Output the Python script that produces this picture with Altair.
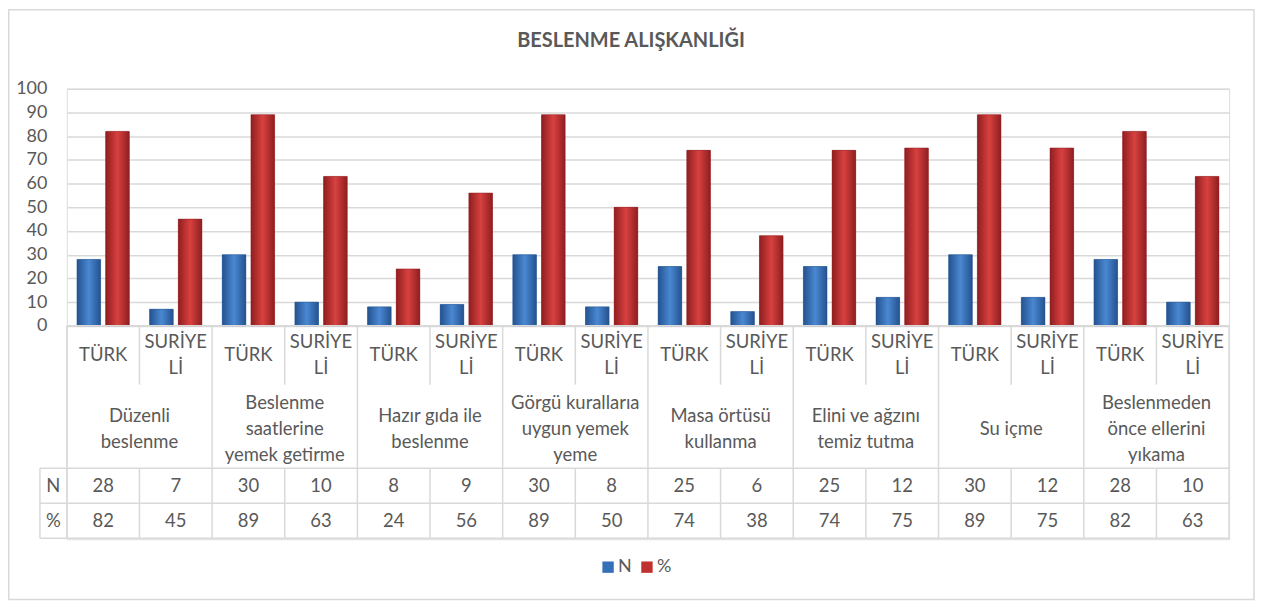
import altair as alt
import pandas as pd

# ---- data ----
groups = [
    "Düzenli\nbeslenme",
    "Beslenme\nsaatlerine\nyemek getirme",
    "Hazır gıda ile\nbeslenme",
    "Görgü kurallarıa\nuygun yemek\nyeme",
    "Masa örtüsü\nkullanma",
    "Elini ve ağzını\ntemiz tutma",
    "Su içme",
    "Beslenmeden\nönce ellerini\nyıkama",
]
subgroups = ["TÜRK", "SURİYE\nLİ"]
n_values = [28, 7, 30, 10, 8, 9, 30, 8, 25, 6, 25, 12, 30, 12, 28, 10]
pct_values = [82, 45, 89, 63, 24, 56, 89, 50, 74, 38, 74, 75, 89, 75, 82, 63]
series_names = ["N", "%"]
title_text = "BESLENME ALIŞKANLIĞI"

TXT = "#595959"
GRID = "#d9d9d9"
FONT = "Lato"
BLUE = "#3570b8"
RED = "#c0302f"

# ---- tables built from the lists ----
rows = []
for i in range(len(n_values)):
    for s, vals in zip(series_names, [n_values, pct_values]):
        rows.append({"idx": i, "group": groups[i // 2], "sub": subgroups[i % 2],
                     "series": s, "value": vals[i]})
bars = pd.DataFrame(rows)

sub_df = pd.DataFrame({"idx": list(range(len(n_values))),
                       "label": [subgroups[i % 2] for i in range(len(n_values))],
                       "n": n_values, "pct": pct_values})
grp_df = pd.DataFrame({"g": list(range(len(groups))), "label": groups})
side_df = pd.DataFrame({"label": series_names, "row": [0, 1]})
title_df = pd.DataFrame({"t": [title_text]})

ncat = len(n_values)
ROW1 = -24.8    # bottom of sub-label row
ROW2 = -60.1    # bottom of group-label row
ROW3 = -74.8    # bottom of N row
ROW4 = -89.6    # bottom of % row
LEFT = -0.37    # left edge of the row-header column
LH = 26         # text line height (px)
PXU = 452 / 190  # px per y unit
HALF = LH / 2 / PXU

segs = []
for g in range(len(groups) + 1):
    segs.append((2 * g, 2 * g, 0, ROW4))
for k in range(len(groups)):
    segs.append((2 * k + 1, 2 * k + 1, 0, ROW1))
    segs.append((2 * k + 1, 2 * k + 1, ROW2, ROW4))
segs.append((LEFT, LEFT, ROW2, ROW4))
for yy in [ROW2, ROW3, ROW4]:
    segs.append((LEFT, ncat, yy, yy))
segs.append((0, ncat, 0, 0))
seg_df = pd.DataFrame(segs, columns=["x", "x2", "y", "y2"])

xscale = alt.Scale(domain=[0, ncat], nice=False, zero=False)
yscale = alt.Scale(domain=[-90, 100], nice=False, zero=False)

W, H = 1166, 452

base = alt.Chart(bars).transform_calculate(
    x0="datum.idx + (datum.series == 'N' ? 0.14 : 0.535)",
    x1="datum.idx + (datum.series == 'N' ? 0.465 : 0.86)",
)

yax = alt.Axis(values=list(range(0, 101, 10)), domain=False, ticks=False,
               labelPadding=20, labelFontSize=18, labelFont=FONT, labelColor=TXT,
               gridColor=GRID, gridWidth=1.5, title=None)

legend_bars = base.mark_bar().encode(
    x=alt.X("x0:Q", scale=xscale, axis=None),
    x2="x1:Q",
    y=alt.Y("value:Q", scale=yscale, axis=yax),
    y2=alt.datum(0),
    color=alt.Color("series:N", sort=series_names,
                    scale=alt.Scale(domain=series_names, range=[BLUE, RED]),
                    legend=alt.Legend(title=None, orient="none", direction="horizontal",
                                      legendX=534, legendY=471, padding=0,
                                      symbolType="square", symbolSize=130,
                                      symbolStrokeWidth=0,
                                      labelFontSize=18, labelFont=FONT, labelColor=TXT,
                                      columnPadding=6, labelOffset=1)),
)

def grad(edge, mid):
    return alt.Gradient(gradient="linear", x1=0, x2=1, y1=0, y2=0,
                        stops=[alt.GradientStop(offset=0, color=edge),
                               alt.GradientStop(offset=0.5, color=mid),
                               alt.GradientStop(offset=1, color=edge)])

def overlay(sname, edge, mid):
    return base.transform_filter(alt.datum.series == sname).mark_bar(
        fill=grad(edge, mid), stroke=edge, strokeWidth=0.5).encode(
        x=alt.X("x0:Q", scale=xscale, axis=None),
        x2="x1:Q",
        y=alt.Y("value:Q", scale=yscale),
        y2=alt.datum(0),
    )

blue_bars = overlay("N", "#24528f", "#4a88d2")
red_bars = overlay("%", "#8f1e20", "#d8413f")

rules = alt.Chart(seg_df).mark_rule(color=GRID, strokeWidth=1.5).encode(
    x=alt.X("x:Q", scale=xscale), x2="x2:Q",
    y=alt.Y("y:Q", scale=yscale), y2="y2:Q")

txt = dict(font=FONT, color=TXT, fontSize=18.5, lineBreak="\n", lineHeight=LH,
           align="center", baseline="middle")

def centred_y(center):
    # shift the first line up so that the whole block is centred on `center`
    return f"{center} + (split(datum.label, '\\n').length - 1) * {HALF}"

sub_text = alt.Chart(sub_df).transform_calculate(
    xc="datum.idx + 0.5", yc=centred_y(-12.2)).mark_text(**txt).encode(
    x=alt.X("xc:Q", scale=xscale), y=alt.Y("yc:Q", scale=yscale), text="label:N")
n_text = alt.Chart(sub_df).transform_calculate(xc="datum.idx + 0.5").mark_text(**txt).encode(
    x=alt.X("xc:Q", scale=xscale), y=alt.datum(-67.5), text="n:Q")
p_text = alt.Chart(sub_df).transform_calculate(xc="datum.idx + 0.5").mark_text(**txt).encode(
    x=alt.X("xc:Q", scale=xscale), y=alt.datum(-82.2), text="pct:Q")
grp_text = alt.Chart(grp_df).transform_calculate(
    xc="2 * datum.g + 1", yc=centred_y(-43.5)).mark_text(**txt).encode(
    x=alt.X("xc:Q", scale=xscale), y=alt.Y("yc:Q", scale=yscale), text="label:N")
side_text = alt.Chart(side_df).transform_calculate(
    xc="-0.185", yc="datum.row == 0 ? -67.5 : -82.2").mark_text(**txt).encode(
    x=alt.X("xc:Q", scale=xscale), y=alt.Y("yc:Q", scale=yscale), text="label:N")

title_mark = alt.Chart(title_df).mark_text(
    font=FONT, fontSize=20, fontWeight="bold", color=TXT, align="center",
    baseline="middle").encode(x=alt.value(566), y=alt.value(-48), text="t:N")

frame = alt.Chart(pd.DataFrame({"a": [0]})).mark_rect(
    fill="transparent", stroke=GRID, strokeWidth=1.5).encode(
    x=alt.value(-58.25), x2=alt.value(1191), y=alt.value(-79.25), y2=alt.value(512.5))

chart = alt.layer(
    frame, legend_bars, blue_bars, red_bars, rules,
    sub_text, grp_text, n_text, p_text, side_text, title_mark,
).properties(
    width=W, height=H,
    autosize=alt.AutoSizeParams(type="none"),
    padding={"left": 59, "top": 80, "right": 26, "bottom": 61},
).configure_view(stroke=None).configure(background="white")

chart.save("out.html", embed_options={"renderer": "svg", "actions": False})
